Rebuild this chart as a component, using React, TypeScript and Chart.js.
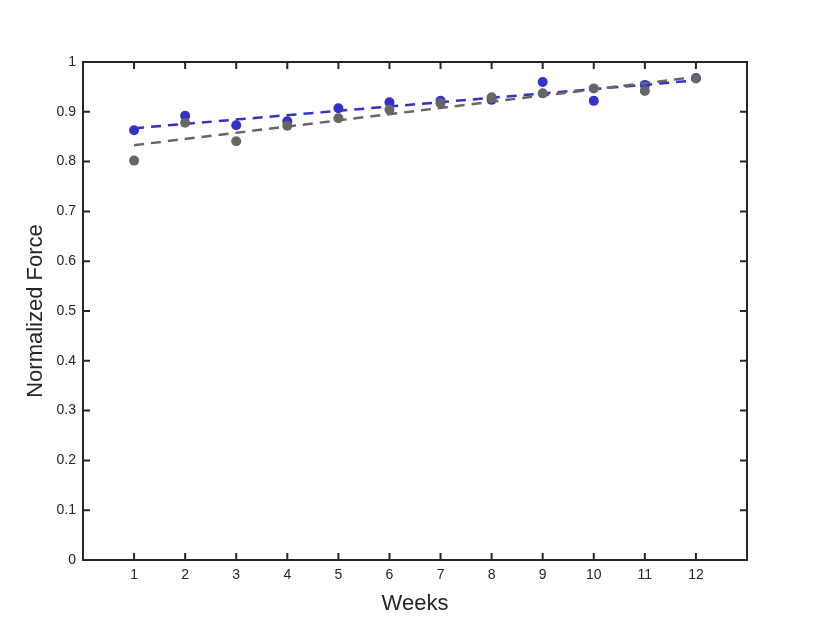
import React, { useEffect, useRef } from "react";
import { Chart, registerables } from "chart.js";

Chart.register(...registerables);

const weeks = [1, 2, 3, 4, 5, 6, 7, 8, 9, 10, 11, 12];
const blueValues = [0.863, 0.892, 0.873, 0.881, 0.907, 0.919, 0.922, 0.924, 0.960, 0.922, 0.954, 0.968];
const greyValues = [0.802, 0.878, 0.841, 0.872, 0.887, 0.904, 0.917, 0.929, 0.937, 0.947, 0.942, 0.967];
const blueFitX = [1, 12];
const blueFitY = [0.867, 0.963];
const greyFitX = [1, 12];
const greyFitY = [0.833, 0.970];
const xTicks = [1, 2, 3, 4, 5, 6, 7, 8, 9, 10, 11, 12];
const yTicks = [0, 0.1, 0.2, 0.3, 0.4, 0.5, 0.6, 0.7, 0.8, 0.9, 1];

const BLUE = "#3232cc";
const GREY = "#666666";
const AXIS = "#262626";
const FONT = "'Liberation Sans', Arial, Helvetica, sans-serif";

const framePlugin = {
  id: "frame",
  afterDatasetsDraw(chart: any) {
    const { ctx, chartArea } = chart;
    const { left, right, top, bottom } = chartArea;
    const xs = chart.scales.x;
    const ys = chart.scales.y;
    const tl = 7;
    ctx.save();
    ctx.strokeStyle = AXIS;
    ctx.lineWidth = 2;
    ctx.beginPath();
    for (const v of xTicks) {
      const px = xs.getPixelForValue(v);
      ctx.moveTo(px, bottom);
      ctx.lineTo(px, bottom - tl);
      ctx.moveTo(px, top);
      ctx.lineTo(px, top + tl);
    }
    for (const v of yTicks) {
      const py = ys.getPixelForValue(v);
      ctx.moveTo(left, py);
      ctx.lineTo(left + tl, py);
      ctx.moveTo(right, py);
      ctx.lineTo(right - tl, py);
    }
    ctx.stroke();
    ctx.beginPath();
    ctx.rect(left, top, right - left, bottom - top);
    ctx.stroke();
    ctx.restore();
  },
};

export default function App() {
  const ref = useRef<HTMLCanvasElement>(null);
  useEffect(() => {
    document.body.style.margin = "0";
    const canvas = ref.current!;
    const chart = new Chart(canvas, {
      type: "scatter",
      data: {
        datasets: [
          {
            label: "blue",
            data: weeks.map((w, i) => ({ x: w, y: blueValues[i] })),
            showLine: false,
            pointRadius: 5,
            pointBackgroundColor: BLUE,
            pointBorderWidth: 0,
            order: 4,
          },
          {
            label: "blue fit",
            data: blueFitX.map((w, i) => ({ x: w, y: blueFitY[i] })),
            showLine: true,
            pointRadius: 0,
            borderColor: BLUE,
            borderWidth: 2.5,
            borderDash: [10, 7],
            order: 3,
          },
          {
            label: "grey",
            data: weeks.map((w, i) => ({ x: w, y: greyValues[i] })),
            showLine: false,
            pointRadius: 5,
            pointBackgroundColor: GREY,
            pointBorderWidth: 0,
            order: 2,
          },
          {
            label: "grey fit",
            data: greyFitX.map((w, i) => ({ x: w, y: greyFitY[i] })),
            showLine: true,
            pointRadius: 0,
            borderColor: GREY,
            borderWidth: 2.5,
            borderDash: [10, 7],
            order: 1,
          },
        ],
      },
      options: {
        animation: false,
        responsive: false,
        devicePixelRatio: 1,
        layout: { padding: { top: 62, right: 83, left: 0, bottom: 0 } },
        plugins: { legend: { display: false }, tooltip: { enabled: false } },
        scales: {
          x: {
            type: "linear",
            min: 0,
            max: 13,
            afterFit: (s: any) => {
              s.height = 63;
            },
            afterBuildTicks: (s: any) => {
              s.ticks = xTicks.map((v) => ({ value: v }));
            },
            grid: { display: false, drawTicks: false },
            border: { display: false },
            ticks: {
              padding: 7,
              color: AXIS,
              font: { family: FONT, size: 14 },
              maxRotation: 0,
              autoSkip: false,
              callback: (v: any) => String(v),
            },
            title: {
              display: true,
              text: "Weeks",
              color: AXIS,
              font: { family: FONT, size: 22 },
              padding: { top: 0, bottom: 6 },
            },
          },
          y: {
            type: "linear",
            min: 0,
            max: 1,
            afterFit: (s: any) => {
              s.width = 83;
            },
            afterBuildTicks: (s: any) => {
              s.ticks = yTicks.map((v) => ({ value: v }));
            },
            grid: { display: false, drawTicks: false },
            border: { display: false },
            ticks: {
              padding: 7,
              color: AXIS,
              font: { family: FONT, size: 14 },
              autoSkip: false,
              callback: (v: any) => String(Number(Number(v).toFixed(1))),
            },
            title: {
              display: true,
              text: "Normalized Force",
              color: AXIS,
              font: { family: FONT, size: 22 },
              padding: { top: 23, bottom: 0 },
            },
          },
        },
      },
      plugins: [framePlugin],
    });
    return () => chart.destroy();
  }, []);
  return (
    <div style={{ width: 830, height: 623, background: "#fff" }}>
      <canvas ref={ref} width={830} height={623} style={{ display: "block" }} />
    </div>
  );
}
